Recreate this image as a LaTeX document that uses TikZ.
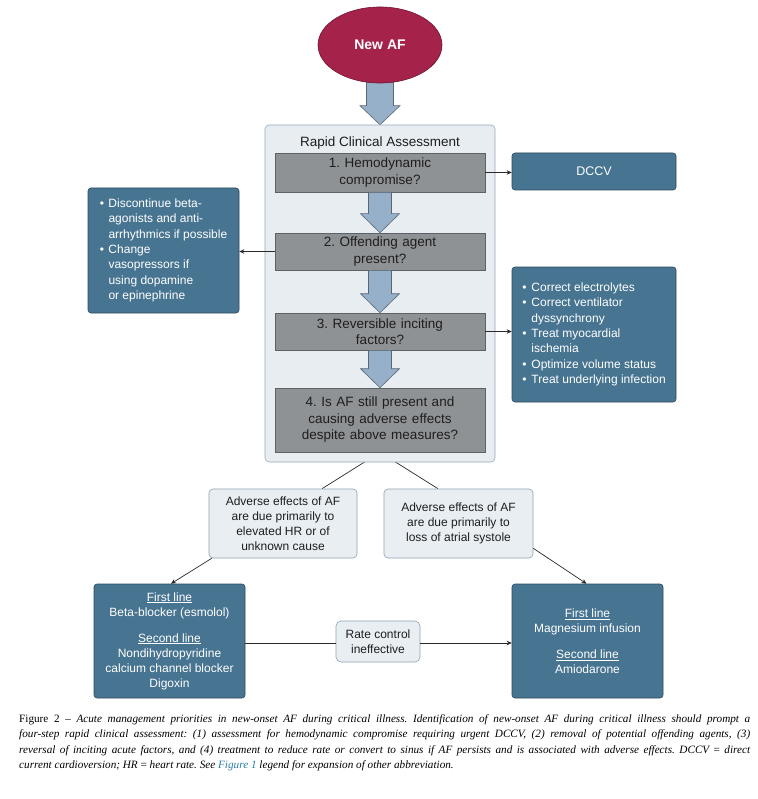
\documentclass[tikz,border=0pt]{standalone}
\usepackage{fontspec}
\setmainfont{Liberation Sans}
\newfontfamily\capserif{Liberation Serif}
\usetikzlibrary{arrows.meta,calc,shapes.geometric}
\frenchspacing
\definecolor{crimson}{HTML}{A5234B}
\definecolor{crimsondraw}{HTML}{6E1530}
\definecolor{bafill}{HTML}{97B0CA}
\definecolor{badraw}{HTML}{5A6673}
\definecolor{outerfill}{HTML}{E8EDF2}
\definecolor{outerdraw}{HTML}{96A8BA}
\definecolor{stepfill}{HTML}{8F9294}
\definecolor{stepdraw}{HTML}{5D6266}
\definecolor{bluefill}{HTML}{477491}
\definecolor{bluedraw}{HTML}{2C4A60}
\definecolor{lightfill}{HTML}{E9EEF2}
\definecolor{lightdraw}{HTML}{8DA2B5}
\definecolor{connc}{HTML}{2A2A2A}
\definecolor{textdark}{HTML}{1E1E1E}
\definecolor{figblue}{HTML}{2B7FA8}
\newcommand\fntstep{\fontsize{13.5}{16.5}\selectfont}
\newcommand\fntbx{\fontsize{12}{15}\selectfont}
\newcommand\fntlist{\fontsize{12}{15.3}\selectfont}
\newcommand\blockarr[4]{% from, to, shaft half width, head half width
  \draw[blockarrow] ($(#1)+(-#3,0)$) -- ($(#1)+(#3,0)$) -- ($(#2)+(#3,-19)$) -- ($(#2)+(#4,-19)$) -- (#2) -- ($(#2)+(-#4,-19)$) -- ($(#2)+(-#3,-19)$) -- cycle;}
\pgfdeclarelayer{bottom}
\pgfdeclarelayer{behind}
\pgfsetlayers{bottom,behind,main}
\tikzset{
  stepbox/.style={draw=stepdraw, fill=stepfill, line width=0.6pt, minimum width=210pt, text width=205pt, align=center, font=\fntstep, text=textdark, inner sep=0pt},
  bluebox/.style={draw=bluedraw, fill=bluefill, line width=0.6pt, rounded corners=3pt, text=white, font=\fntbx, inner sep=0pt, align=center},
  lightbox/.style={draw=lightdraw, fill=lightfill, line width=0.6pt, rounded corners=4pt, font=\fntbx, text=textdark, inner sep=0pt, align=center},
  conn/.style={draw=connc, line width=0.7pt},
  arr/.style={conn, -{Stealth[length=5pt,width=4.5pt]}},
  blockarrow/.style={draw=badraw, fill=bafill, line width=0.6pt, line join=miter}
}
\begin{document}
\begin{tikzpicture}[x=1pt,y=-1pt]
\useasboundingbox (0,0) rectangle (757,799);
\begin{pgfonlayer}{bottom}
  \fill[white] (0,0) rectangle (757,799);
\end{pgfonlayer}

% outer assessment box
\node[draw=outerdraw, fill=outerfill, line width=0.6pt, rounded corners=4pt, minimum width=230pt, minimum height=337pt, inner sep=0pt] (rca) at (380,293.5) {};
\node[font=\fntstep, text=textdark, inner sep=0pt] (title) at (380,143) {Rapid Clinical Assessment};

% new AF
\node[ellipse, draw=crimsondraw, fill=crimson, line width=0.6pt, minimum width=124pt, minimum height=76pt, text=white, font=\fontsize{14}{16}\selectfont\bfseries, inner sep=0pt] (newaf) at (380,45) {New AF};

% steps
\node[stepbox, minimum height=39pt] (s1) at (380,172.5) {1. Hemodynamic\\compromise?};
\node[stepbox, minimum height=37pt] (s2) at (380,251.5) {2. Offending agent\\present?};
\node[stepbox, minimum height=37pt] (s3) at (380,331.5) {3. Reversible inciting\\factors?};
\node[stepbox, minimum height=64pt] (s4) at (380,420) {4. Is AF still present and\\causing adverse effects\\despite above measures?};

% side boxes
\node[bluebox, minimum width=164pt, minimum height=37pt, font=\fontsize{12.5}{15}\selectfont] (dccv) at (594,171.5) {DCCV};
\node[bluebox, minimum width=151pt, minimum height=125pt, font=\fntlist] (leftbox) at (163.5,250.5) {%
  \begin{tabular}{@{}c@{\hspace{4.5pt}}l@{}}
  \textbullet & Discontinue beta-\\
   & agonists and anti-\\
   & arrhythmics if possible\\
  \textbullet & Change\\
   & vasopressors if\\
   & using dopamine\\
   & or epinephrine
  \end{tabular}};
\node[bluebox, minimum width=164pt, minimum height=135pt, font=\fntlist] (rightbox) at (594,334.5) {%
  \begin{tabular}{@{}c@{\hspace{5pt}}l@{}}
  \textbullet & Correct electrolytes\\
  \textbullet & Correct ventilator\\
   & dyssynchrony\\
  \textbullet & Treat myocardial\\
   & ischemia\\
  \textbullet & Optimize volume status\\
  \textbullet & Treat underlying infection
  \end{tabular}};

% outcome boxes
\node[lightbox, minimum width=148pt, minimum height=69pt] (out1) at (283,523.5) {Adverse effects of AF\\are due primarily to\\elevated HR or of\\unknown cause};
\node[lightbox, minimum width=149pt, minimum height=69pt] (out2) at (458.5,523.5) {Adverse effects of AF\\are due primarily to\\loss of atrial systole};

% treatment boxes
\node[bluebox, minimum width=151pt, minimum height=114pt] (treat1) at (169.5,641) {\underline{First line}\\Beta-blocker (esmolol)\\[11pt]\underline{Second line}\\Nondihydropyridine\\calcium channel blocker\\Digoxin};
\node[bluebox, minimum width=151pt, minimum height=114pt] (treat2) at (587.5,641) {\underline{First line}\\Magnesium infusion\\[11pt]\underline{Second line}\\Amiodarone};
\node[lightbox, minimum width=84pt, minimum height=41pt, rounded corners=5pt] (rate) at (378,641.5) {Rate control\\ineffective};

% block arrows
\begin{pgfonlayer}{behind}
  \blockarr{$(newaf.south)+(0,-4)$}{rca.north}{13.5}{20}
  \draw[conn] (s4.south) -- ($(out1.north)+(39,0)$);
  \draw[conn] (s4.south) -- ($(out2.north)+(-20.5,0)$);
\end{pgfonlayer}
\blockarr{s1.south}{s2.north}{11.5}{19.5}
\blockarr{s2.south}{s3.north}{11.5}{19.5}
\blockarr{s3.south}{s4.north}{11.5}{19.5}

% connectors
\draw[arr] (s1.east) -- (dccv.west |- s1.east);
\draw[arr] (s2.west) -- (leftbox.east |- s2.west);
\draw[arr] (s3.east) -- (rightbox.west |- s3.east);
\draw[arr] ($(out1.south west)+(3,0)$) -- ($(treat1.north)+(1.5,0)$);
\draw[arr] ($(out2.south east)+(0,-10)$) -- ($(treat2.north)+(-1,0)$);
\draw[conn] ($(treat1.east)+(0,2)$) -- ($(rate.west)+(0,1.5)$);
\draw[arr] ($(rate.east)+(0,1.5)$) -- ($(treat2.west)+(0,2)$);

% caption
\node[anchor=north west, inner sep=0pt, text width=731pt, align=justify, font=\capserif\fontsize{11.2}{15.5}\selectfont, text=black] (caption) at (19,714) {\noindent Figure 2 – \itshape Acute management priorities in new-onset AF during critical illness. Identification of new-onset AF during critical illness should prompt a\linebreak four-step rapid clinical assessment: (1) assessment for hemodynamic compromise requiring urgent DCCV, (2) removal of potential offending agents, (3)\linebreak reversal of inciting acute factors, and (4) treatment to reduce rate or convert to sinus if AF persists and is associated with adverse effects. DCCV {\upshape =} direct\linebreak current cardioversion; HR {\upshape =} heart rate. See \textcolor{figblue}{Figure 1} legend for expansion of other abbreviation.};
\end{tikzpicture}
\end{document}
